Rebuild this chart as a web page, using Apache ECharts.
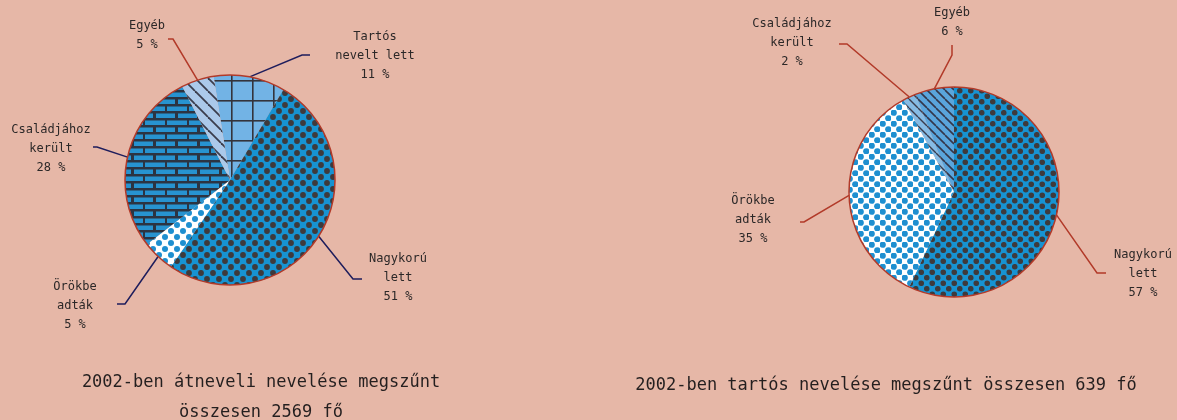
<!DOCTYPE html>
<html>
<head>
<meta charset="utf-8">
<script src="https://cdn.jsdelivr.net/npm/echarts@6/dist/echarts.min.js"></script>
<style>
  html, body { margin: 0; padding: 0; background: #e6b7a7; }
  #main { width: 1177px; height: 420px; }
</style>
</head>
<body>
<div id="main"></div>
<script>
// data
var leftNames = ['Tartós nevelt lett', 'Nagykorú lett', 'Örökbe adták', 'Családjához került', 'Egyéb'];
var leftValues = [11, 51, 5, 28, 5];
var rightNames = ['Nagykorú lett', 'Örökbe adták', 'Családjához került', 'Egyéb'];
var rightValues = [57, 35, 2, 6];
var leftCaption = ['2002-ben átneveli nevelése megszűnt', 'összesen 2569 fő'];
var rightCaption = ['2002-ben tartós nevelése megszűnt összesen 639 fő'];

var FONT = '"DejaVu Sans Mono", monospace';
var NAVY = '#1e1d5c';
var RED = '#b23a29';

// ---- fill patterns (the original is a print with textures) ----
function pattern(w, h, draw) {
  var c = document.createElement('canvas');
  c.width = w; c.height = h;
  var ctx = c.getContext('2d');
  draw(ctx, w, h);
  return { image: c, repeat: 'repeat' };
}
function dots(bg, fg, s, r) {
  return pattern(s, s, function (ctx) {
    ctx.fillStyle = bg; ctx.fillRect(0, 0, s, s);
    ctx.fillStyle = fg;
    [[s / 4, s / 4], [3 * s / 4, 3 * s / 4]].forEach(function (p) {
      ctx.beginPath(); ctx.arc(p[0], p[1], r, 0, Math.PI * 2); ctx.fill();
    });
  });
}
function bricks(bg, fg) {
  return pattern(22, 14, function (ctx) {
    ctx.fillStyle = fg; ctx.fillRect(0, 0, 22, 14);
    ctx.fillStyle = bg;
    ctx.fillRect(2, 1.5, 19, 4.5);
    ctx.fillRect(13, 8.5, 22, 4.5);
    ctx.fillRect(-9, 8.5, 20, 4.5);
  });
}
function grid(bg, fg, w, h) {
  return pattern(w, h, function (ctx) {
    ctx.fillStyle = bg; ctx.fillRect(0, 0, w, h);
    ctx.fillStyle = fg;
    ctx.fillRect(0, 0, 1.6, h);
    ctx.fillRect(0, 0, w, 1.6);
  });
}
function stripes(bg, fg, s, lw) {
  return pattern(s, s, function (ctx) {
    ctx.fillStyle = bg; ctx.fillRect(0, 0, s, s);
    ctx.strokeStyle = fg; ctx.lineWidth = lw;
    [[-s, 0], [0, 0], [s, 0]].forEach(function (o) {
      ctx.beginPath();
      ctx.moveTo(o[0], 0); ctx.lineTo(o[0] + s, s);
      ctx.stroke();
    });
  });
}

var leftFills = {
  'Tartós nevelt lett': grid('#72b3e5', '#34343c', 21, 20),
  'Nagykorú lett': dots('#1793d2', '#3e3a3c', 12, 2.9),
  'Örökbe adták': dots('#ffffff', '#1e8fd0', 12, 3),
  'Családjához került': bricks('#2793d0', '#2c3442'),
  'Egyéb': stripes('#abc9ea', '#3a3c4c', 13, 1.8)
};
var rightFills = {
  'Nagykorú lett': dots('#1793d2', '#3e3a3c', 11, 2.8),
  'Örökbe adták': dots('#ffffff', '#1e8fd0', 11, 3.1),
  'Családjához került': stripes('#86bbe4', '#3a3c4c', 9, 1.4),
  'Egyéb': stripes('#5aa5dc', '#34364a', 9, 1.6)
};

// label placement: label centre, elbow and end of the leader line
var leftLabels = {
  'Tartós nevelt lett': { x: 375, y: 56, elbow: [302, 55], end: [310, 55], line: NAVY },
  'Nagykorú lett': { x: 398, y: 278, elbow: [353, 279], end: [362, 279], line: NAVY },
  'Örökbe adták': { x: 75, y: 306, elbow: [125, 304], end: [117, 304], line: NAVY },
  'Családjához került': { x: 51, y: 149, elbow: [97, 147], end: [93, 147], line: NAVY },
  'Egyéb': { x: 147, y: 35, elbow: [173, 39], end: [168, 39], line: RED }
};
var rightLabels = {
  'Nagykorú lett': { x: 1143, y: 274, elbow: [1097, 273], end: [1106, 273], line: RED },
  'Örökbe adták': { x: 753, y: 220, elbow: [804, 222], end: [800, 222], line: RED },
  'Családjához került': { x: 792, y: 43, elbow: [847, 44], end: [839, 44], line: RED },
  'Egyéb': { x: 952, y: 22, elbow: [952, 55], end: [952, 45], line: RED }
};

function pieSeries(names, values, fills, labels, center, startAngle) {
  return {
    type: 'pie',
    center: center,
    radius: 105,
    startAngle: startAngle,
    clockwise: true,
    avoidLabelOverlap: false,
    animation: false,
    emphasis: { disabled: true },
    data: names.map(function (n, i) {
      return {
        name: n,
        value: values[i],
        itemStyle: { color: fills[n] },
        labelLine: { lineStyle: { color: labels[n].line } }
      };
    }),
    label: {
      show: true,
      position: 'outside',
      formatter: function (p) { return p.name.replace(' ', '\n') + '\n' + p.value + ' %'; },
      fontFamily: FONT,
      fontSize: 12,
      lineHeight: 19,
      color: '#2c2828'
    },
    labelLine: { show: true, length: 10, length2: 10, lineStyle: { width: 1.5 } },
    labelLayout: function (p) {
      var L = labels[names[p.dataIndex]];
      return {
        x: L.x, y: L.y, align: 'center', verticalAlign: 'middle',
        labelLinePoints: [p.labelLinePoints[0], L.elbow, L.end]
      };
    }
  };
}

function outline(center) {
  return {
    type: 'pie', center: center, radius: 105, silent: true, animation: false,
    z: 5,
    data: [{ value: 1, name: '' }],
    itemStyle: { color: 'rgba(0,0,0,0)', borderColor: RED, borderWidth: 1.5 },
    label: { show: false }, labelLine: { show: false }
  };
}

var chart = echarts.init(document.getElementById('main'));
var captionStyle = { fontFamily: FONT, fontSize: 17, fontWeight: 'normal', color: '#241f1f', lineHeight: 30 };
chart.setOption({
  backgroundColor: '#e6b7a7',
  title: [
    { text: leftCaption.join('\n'), left: 256, top: 363, textAlign: 'center', textStyle: captionStyle },
    { text: rightCaption.join('\n'), left: 881, top: 366, textAlign: 'center', textStyle: captionStyle }
  ],
  series: [
    pieSeries(leftNames, leftValues, leftFills, leftLabels, [230, 180], 99),
    outline([230, 180]),
    pieSeries(rightNames, rightValues, rightFills, rightLabels, [954, 192], 90),
    outline([954, 192])
  ]
});
</script>
</body>
</html>
